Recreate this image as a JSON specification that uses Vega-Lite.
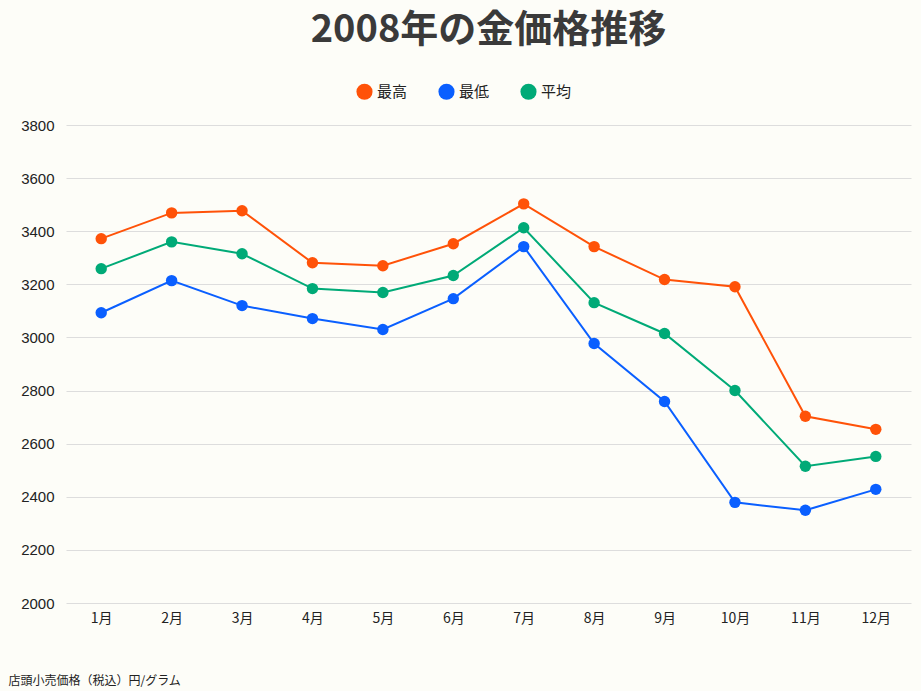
{
"$schema":"https://vega.github.io/schema/vega-lite/v6.json",
"width":921,"height":691,
"autosize":{"type":"fit","contains":"padding"},
"background":"#fdfdf8",
"padding":{"left":8,"right":10,"top":12,"bottom":5},
"title":{"text":"2008年の金価格推移","fontSize":38,"fontWeight":"bold","color":"#3a3a3a","font":"Noto Sans CJK JP","anchor":"middle","offset":68},
"data":{"values":[
{"m":"1月","s":"最高","v":3372},{"m":"2月","s":"最高","v":3469},{"m":"3月","s":"最高","v":3477},{"m":"4月","s":"最高","v":3281},{"m":"5月","s":"最高","v":3270},{"m":"6月","s":"最高","v":3353},{"m":"7月","s":"最高","v":3503},{"m":"8月","s":"最高","v":3342},{"m":"9月","s":"最高","v":3218},{"m":"10月","s":"最高","v":3191},{"m":"11月","s":"最高","v":2703},{"m":"12月","s":"最高","v":2654},
{"m":"1月","s":"最低","v":3093},{"m":"2月","s":"最低","v":3214},{"m":"3月","s":"最低","v":3120},{"m":"4月","s":"最低","v":3071},{"m":"5月","s":"最低","v":3030},{"m":"6月","s":"最低","v":3146},{"m":"7月","s":"最低","v":3342},{"m":"8月","s":"最低","v":2977},{"m":"9月","s":"最低","v":2759},{"m":"10月","s":"最低","v":2379},{"m":"11月","s":"最低","v":2349},{"m":"12月","s":"最低","v":2428},
{"m":"1月","s":"平均","v":3259},{"m":"2月","s":"平均","v":3360},{"m":"3月","s":"平均","v":3315},{"m":"4月","s":"平均","v":3184},{"m":"5月","s":"平均","v":3169},{"m":"6月","s":"平均","v":3233},{"m":"7月","s":"平均","v":3413},{"m":"8月","s":"平均","v":3131},{"m":"9月","s":"平均","v":3015},{"m":"10月","s":"平均","v":2800},{"m":"11月","s":"平均","v":2515},{"m":"12月","s":"平均","v":2552}
]},
"encoding":{
"x":{"field":"m","type":"ordinal","sort":null,"scale":{"paddingOuter":0.25},"axis":{"labelAngle":0,"labelFontSize":14,"labelColor":"#222","labelFont":"Noto Sans CJK JP","domain":false,"ticks":false,"grid":false,"labelPadding":8,"title":"店頭小売価格（税込）円/グラム","titleFontSize":12,"titleFontWeight":"normal","titleFont":"Noto Sans CJK JP","titleColor":"#222","titleAnchor":"start","titleAlign":"left","titleX":-58,"titleY":72}},
"y":{"field":"v","type":"quantitative","scale":{"domain":[2000,3800]},"axis":{"values":[2000,2200,2400,2600,2800,3000,3200,3400,3600,3800],"format":"d","title":null,"labelFontSize":15,"labelColor":"#222","labelFont":"Liberation Sans","domain":false,"ticks":false,"gridColor":"#dddddd","labelPadding":12}},
"color":{"field":"s","type":"nominal","sort":["最高","最低","平均"],"scale":{"domain":["最高","最低","平均"],"range":["#ff5208","#0a5fff","#00aa77"]},"legend":{"orient":"none","legendX":290,"legendY":-42,"direction":"horizontal","title":null,"symbolType":"circle","symbolSize":260,"symbolStrokeWidth":0,"labelFontSize":15,"labelFont":"Noto Sans CJK JP","labelColor":"#222","columnPadding":30}}
},
"layer":[
{"mark":{"type":"line","strokeWidth":2}},
{"mark":{"type":"point","filled":true,"size":130,"opacity":1}}
],
"config":{"view":{"stroke":null}}
}
